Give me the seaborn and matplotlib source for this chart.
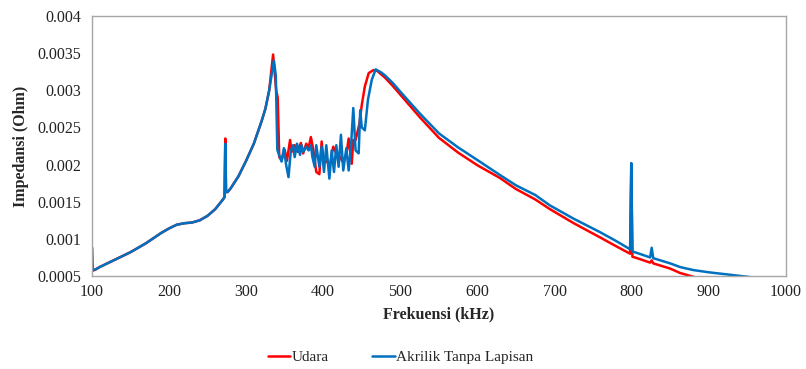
import matplotlib
matplotlib.use("Agg")
import matplotlib.pyplot as plt
import seaborn as sns
import pandas as pd
from matplotlib.ticker import FixedLocator, FuncFormatter

# ---- data ----
freq_udara = [100, 101, 105, 110, 120, 130, 140, 150, 160, 170, 180, 190, 200, 210, 220,
              230, 240, 250, 260, 270, 272, 273, 274, 276, 280, 290, 300, 310, 320, 325,
              330, 335, 339, 341, 343, 346, 350, 353, 357, 359, 363, 367, 371, 374, 378,
              381, 384, 387, 391, 395, 398, 400, 404, 409, 413, 417, 422, 425, 430, 433,
              437, 439, 442, 447, 450, 454, 459, 465, 470, 480, 490, 500, 525, 550, 575,
              600, 629, 650, 675, 694, 725, 759, 780, 798, 799.5, 801, 810, 824, 826, 828,
              850, 863, 880, 900, 950, 1000]
imp_udara = [0.00058, 0.00057, 0.00059, 0.00062, 0.00067, 0.00072, 0.00077, 0.00082, 0.00088,
             0.00094, 0.00101, 0.00108, 0.00114, 0.00119, 0.00121, 0.00122, 0.00125, 0.00131,
             0.00140, 0.00153, 0.00156, 0.00235, 0.00163, 0.00163, 0.00168, 0.00184, 0.00205,
             0.00228, 0.00258, 0.00275, 0.00300, 0.00348, 0.00300, 0.00290, 0.00210, 0.00206,
             0.00220, 0.00205, 0.00233, 0.00217, 0.00226, 0.00217, 0.00229, 0.00215, 0.00228,
             0.00222, 0.00237, 0.00221, 0.00190, 0.00187, 0.00231, 0.00210, 0.00204, 0.00201,
             0.00224, 0.00215, 0.00210, 0.00204, 0.00213, 0.00235, 0.00201, 0.00233, 0.00233,
             0.00255, 0.00280, 0.00305, 0.00323, 0.00327, 0.00326, 0.00317, 0.00306, 0.00294,
             0.00264, 0.00236, 0.00216, 0.00199, 0.00182, 0.00167, 0.00153, 0.00140, 0.00121,
             0.00102, 0.00090, 0.00080, 0.00190, 0.00076, 0.00073, 0.00068, 0.00071, 0.00067,
             0.00060, 0.00054, 0.00049, 0.00043, 0.00030, 0.00020]

freq_akrilik = [100.4, 101.2, 105, 110, 120, 130, 140, 150, 160, 170, 180, 190, 200, 210, 220,
                230, 240, 250, 260, 270, 272, 273, 274, 276, 280, 290, 300, 310, 320, 325,
                330, 336, 338.5, 340.5, 342, 346, 349, 352, 355, 358, 361, 363, 366, 370,
                372, 374, 378, 381, 384, 386, 389, 391, 395, 398, 401, 404, 408, 411, 414,
                417, 420, 423, 426, 430, 433, 436, 439, 442, 446, 448, 450, 454, 458, 463,
                468, 475, 480, 490, 500, 525, 550, 575, 600, 629, 650, 675, 694, 725, 759,
                780, 798, 799.5, 801, 810, 824, 826, 828, 850, 863, 880, 900, 925, 950, 1000]
imp_akrilik = [0.00088, 0.00058, 0.00059, 0.00062, 0.00067, 0.00072, 0.00077, 0.00082, 0.00088,
               0.00094, 0.00101, 0.00108, 0.00114, 0.00119, 0.00121, 0.00122, 0.00125, 0.00131,
               0.00140, 0.00153, 0.00156, 0.00228, 0.00163, 0.00163, 0.00168, 0.00184, 0.00205,
               0.00228, 0.00258, 0.00275, 0.00300, 0.00340, 0.00320, 0.00220, 0.00215, 0.00204,
               0.00222, 0.00199, 0.00183, 0.00219, 0.00226, 0.00210, 0.00228, 0.00213, 0.00226,
               0.00217, 0.00224, 0.00219, 0.00226, 0.00210, 0.00197, 0.00226, 0.00197, 0.00224,
               0.00190, 0.00226, 0.00181, 0.00219, 0.00190, 0.00226, 0.00197, 0.00240, 0.00192,
               0.00222, 0.00192, 0.00224, 0.00276, 0.00219, 0.00215, 0.00273, 0.00250, 0.00246,
               0.00287, 0.00314, 0.00328, 0.00324, 0.00320, 0.00310, 0.00298, 0.00269, 0.00242,
               0.00223, 0.00206, 0.00186, 0.00172, 0.00159, 0.00145, 0.00127, 0.00109, 0.00097,
               0.00086, 0.00202, 0.00083, 0.00080, 0.00075, 0.00088, 0.00074, 0.00067, 0.00062,
               0.00058, 0.00055, 0.00052, 0.00049, 0.00042]

series_names = ["Udara", "Akrilik Tanpa Lapisan"]
series_colors = ["#FF0000", "#0070C0"]
x_ticks = [100, 200, 300, 400, 500, 600, 700, 800, 900, 1000]
y_ticks = [0.0005, 0.001, 0.0015, 0.002, 0.0025, 0.003, 0.0035, 0.004]

# ---- plot ----
sns.set_theme(style="white")
plt.rcParams["font.family"] = ["Liberation Serif", "DejaVu Serif"]

fig = plt.figure(figsize=(8.06, 3.69), dpi=100)
ax = fig.add_axes([0.114, 0.252, 0.861, 0.705])

df_u = pd.DataFrame({"f": freq_udara, "z": imp_udara})
df_a = pd.DataFrame({"f": freq_akrilik, "z": imp_akrilik})
sns.lineplot(data=df_u, x="f", y="z", ax=ax, color=series_colors[0], linewidth=1.8,
             label=series_names[0], estimator=None, sort=False)
sns.lineplot(data=df_a, x="f", y="z", ax=ax, color=series_colors[1], linewidth=1.8,
             label=series_names[1], estimator=None, sort=False)

ax.set_xlim(100, 1000)
ax.set_ylim(0.0005, 0.004)
ax.xaxis.set_major_locator(FixedLocator(x_ticks))
ax.yaxis.set_major_locator(FixedLocator(y_ticks))
ax.yaxis.set_major_formatter(FuncFormatter(lambda v, p: f"{v:g}"))
ax.tick_params(axis="both", length=0, labelsize=11.5, colors="#222222", pad=6)
ax.tick_params(axis="y", pad=8)

for s in ax.spines.values():
    s.set_color("#A6A6A6")
    s.set_linewidth(1.0)

ax.set_xlabel("Frekuensi (kHz)", fontsize=11.5, fontweight="bold", labelpad=4)
ax.set_ylabel("Impedansi (Ohm)", fontsize=11.5, fontweight="bold", labelpad=6)

ax.get_legend().remove()
handles, labels = ax.get_legend_handles_labels()
fig.legend(handles, labels, loc="center", bbox_to_anchor=(0.497, 0.032), ncol=2,
           frameon=False, fontsize=11, handlelength=1.5, handletextpad=0.1,
           columnspacing=2.8)

fig.savefig("out.png", dpi=100)
